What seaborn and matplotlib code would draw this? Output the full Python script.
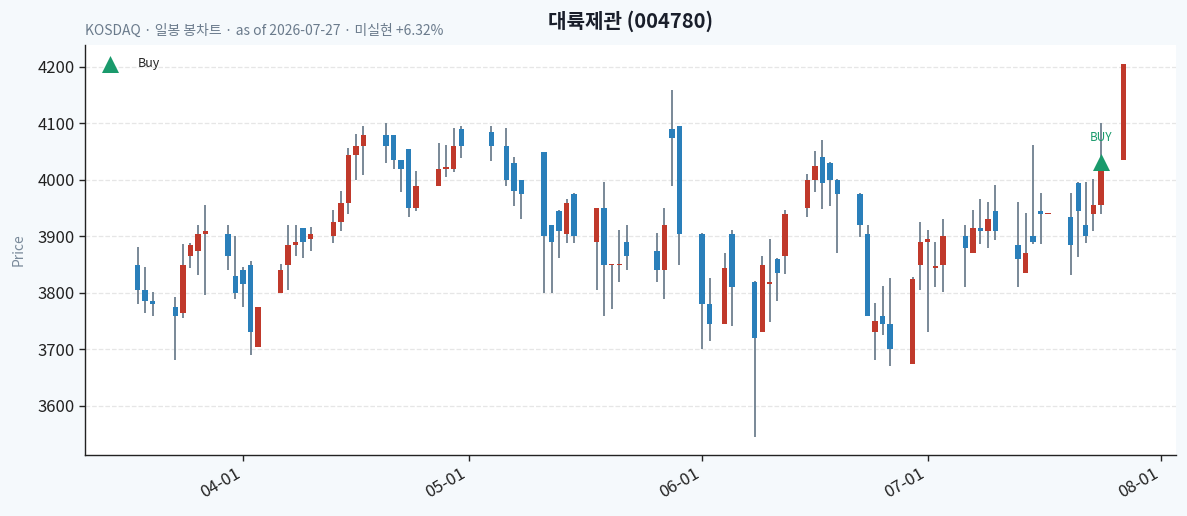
import pandas as pd
import numpy as np
import seaborn as sns
import matplotlib
matplotlib.use("Agg")
import matplotlib.pyplot as plt
import matplotlib.dates as mdates

# daily candles (KRX business days)
dates = ["2026-03-18", "2026-03-19", "2026-03-20", "2026-03-23", "2026-03-24", "2026-03-25",
         "2026-03-26", "2026-03-27", "2026-03-30", "2026-03-31", "2026-04-01", "2026-04-02",
         "2026-04-03", "2026-04-06", "2026-04-07", "2026-04-08", "2026-04-09", "2026-04-10",
         "2026-04-13", "2026-04-14", "2026-04-15", "2026-04-16", "2026-04-17", "2026-04-20",
         "2026-04-21", "2026-04-22", "2026-04-23", "2026-04-24", "2026-04-27", "2026-04-28",
         "2026-04-29", "2026-04-30", "2026-05-04", "2026-05-06", "2026-05-07", "2026-05-08",
         "2026-05-11", "2026-05-12", "2026-05-13", "2026-05-14", "2026-05-15", "2026-05-18",
         "2026-05-19", "2026-05-20", "2026-05-21", "2026-05-22", "2026-05-26", "2026-05-27",
         "2026-05-28", "2026-05-29", "2026-06-01", "2026-06-02", "2026-06-04", "2026-06-05",
         "2026-06-08", "2026-06-09", "2026-06-10", "2026-06-11", "2026-06-12", "2026-06-15",
         "2026-06-16", "2026-06-17", "2026-06-18", "2026-06-19", "2026-06-22", "2026-06-23",
         "2026-06-24", "2026-06-25", "2026-06-26", "2026-06-29", "2026-06-30", "2026-07-01",
         "2026-07-02", "2026-07-03", "2026-07-06", "2026-07-07", "2026-07-08", "2026-07-09",
         "2026-07-10", "2026-07-13", "2026-07-14", "2026-07-15", "2026-07-16", "2026-07-17",
         "2026-07-20", "2026-07-21", "2026-07-22", "2026-07-23", "2026-07-24", "2026-07-27"]
opens = [3850, 3805, 3785, 3775, 3765, 3865, 3875, 3905, 3905, 3830, 3840, 3850,
         3705, 3800, 3850, 3885, 3915, 3895, 3900, 3925, 3960, 4045, 4060, 4080,
         4080, 4035, 4055, 3950, 3990, 4020, 4020, 4090, 4085, 4060, 4030, 4000,
         4050, 3920, 3945, 3905, 3975, 3890, 3950, 3850, 3850, 3890, 3875, 3840,
         4090, 4095, 3905, 3780, 3745, 3905, 3820, 3730, 3815, 3860, 3865, 3950,
         4000, 4040, 4030, 4000, 3975, 3905, 3730, 3760, 3745, 3675, 3850, 3890,
         3845, 3850, 3900, 3870, 3915, 3910, 3945, 3885, 3835, 3900, 3945, 3940,
         3935, 3995, 3920, 3940, 3955, 4035]
highs = [3882, 3846, 3802, 3792, 3887, 3888, 3921, 3956, 3921, 3901, 3846, 3857,
         3775, 3852, 3921, 3921, 3915, 3917, 3947, 3981, 4057, 4081, 4095, 4101,
         4080, 4035, 4055, 4016, 4065, 4062, 4092, 4095, 4095, 4092, 4040, 4000,
         4050, 3920, 3947, 3966, 3977, 3950, 3996, 3852, 3912, 3921, 3906, 3951,
         4160, 4095, 3906, 3827, 3871, 3912, 3822, 3866, 3896, 3862, 3947, 4010,
         4051, 4071, 4032, 4002, 3977, 3921, 3782, 3812, 3827, 3828, 3926, 3912,
         3891, 3931, 3921, 3947, 3966, 3961, 3991, 3961, 3942, 4062, 3977, 3941,
         3977, 3996, 3996, 4002, 4101, 4205]
lows = [3780, 3765, 3760, 3682, 3755, 3845, 3831, 3796, 3840, 3790, 3775, 3690,
        3705, 3800, 3805, 3865, 3861, 3875, 3889, 3910, 3940, 4000, 4009, 4030,
        4020, 3978, 3934, 3945, 3990, 4005, 4014, 4039, 4034, 3990, 3954, 3930,
        3800, 3800, 3861, 3889, 3889, 3805, 3760, 3771, 3820, 3840, 3820, 3790,
        3990, 3850, 3700, 3715, 3745, 3741, 3545, 3730, 3749, 3785, 3834, 3934,
        3978, 3948, 3954, 3870, 3899, 3760, 3682, 3725, 3671, 3675, 3805, 3730,
        3810, 3801, 3810, 3870, 3886, 3880, 3894, 3810, 3835, 3886, 3886, 3940,
        3831, 3864, 3889, 3910, 3940, 4035]
closes = [3805, 3785, 3780, 3760, 3850, 3885, 3905, 3910, 3865, 3800, 3815, 3730,
          3775, 3840, 3885, 3890, 3890, 3905, 3925, 3960, 4045, 4060, 4080, 4060,
          4035, 4020, 3950, 3990, 4020, 4023, 4060, 4060, 4060, 4000, 3980, 3975,
          3900, 3890, 3910, 3960, 3900, 3950, 3850, 3852, 3851, 3865, 3840, 3920,
          4075, 3905, 3780, 3745, 3845, 3810, 3720, 3850, 3820, 3835, 3940, 4000,
          4025, 3995, 4000, 3975, 3920, 3760, 3750, 3745, 3700, 3825, 3890, 3895,
          3847, 3900, 3880, 3915, 3910, 3930, 3910, 3860, 3870, 3890, 3940, 3941,
          3885, 3945, 3900, 3955, 4020, 4205]

buy_dates = ["2026-07-24"]
buy_prices = [4032]

df = pd.DataFrame({"date": pd.to_datetime(dates), "open": opens, "high": highs,
                   "low": lows, "close": closes})
buys = pd.DataFrame({"date": pd.to_datetime(buy_dates), "price": buy_prices})

sns.set_theme(style="white")
plt.rcParams['font.family'] = ['Noto Sans CJK KR', 'DejaVu Sans']
plt.rcParams['axes.unicode_minus'] = False

up_col = "#c0392b"
down_col = "#2a7fba"
wick_col = "#6e7f8f"
buy_col = "#1a9a6c"

fig = plt.figure(figsize=(11.87, 5.16), dpi=100, facecolor="#f5f9fc")
ax = fig.add_axes([0.0716, 0.118, 0.9192, 0.795])
ax.set_facecolor("white")

up = df["close"] >= df["open"]
colors = np.where(up, up_col, down_col)

# wicks then bodies
ax.vlines(df["date"], df["low"], df["high"], color=wick_col, linewidth=1.3, zorder=2)
body_bottom = df[["open", "close"]].min(axis=1)
body_h = (df["close"] - df["open"]).abs().clip(lower=1.5)
ax.bar(df["date"], body_h, bottom=body_bottom, width=0.72, color=colors,
       linewidth=0, zorder=3)

sns.scatterplot(data=buys, x="date", y="price", marker="^", s=150, color=buy_col,
                edgecolor=buy_col, linewidth=0, zorder=5, ax=ax, label="Buy")
for _, r in buys.iterrows():
    ax.annotate("BUY", (r["date"], r["price"]), xytext=(0, 13), textcoords="offset points",
                ha="center", va="bottom", fontsize=8.5, color=buy_col, zorder=6)

ax.set_xlim(pd.Timestamp("2026-03-11"), pd.Timestamp("2026-08-03"))
ax.set_ylim(3513, 4239)
ax.set_yticks([3600, 3700, 3800, 3900, 4000, 4100, 4200])
ax.xaxis.set_major_locator(mdates.MonthLocator())
ax.xaxis.set_major_formatter(mdates.DateFormatter("%m-%d"))
plt.setp(ax.get_xticklabels(), rotation=30, ha="right")
ax.tick_params(axis="both", labelsize=12, colors="#222222", length=4, width=1,
               bottom=True, left=True)
ax.grid(axis="y", linestyle="--", color="#e6e6e6", linewidth=0.9)
ax.set_axisbelow(True)
sns.despine(ax=ax)
for s in ["left", "bottom"]:
    ax.spines[s].set_color("#222222")
    ax.spines[s].set_linewidth(1.0)

ax.set_xlabel("")
ax.set_ylabel("Price", fontsize=10, color="#7a8a9a", labelpad=8)
ax.set_title("대륙제관 (004780)", fontsize=14.5, fontweight="bold", color="#1a1f2b", pad=12)
ax.text(0.0, 1.017, "KOSDAQ · 일봉 봉차트 · as of 2026-07-27 · 미실현 +6.32%",
        transform=ax.transAxes, fontsize=10, color="#6b7b8c", ha="left", va="bottom")

leg = ax.legend(loc="upper left", frameon=False, fontsize=9, handletextpad=1.2,
                borderaxespad=0.6)

fig.savefig("out.png", dpi=100, facecolor=fig.get_facecolor())
